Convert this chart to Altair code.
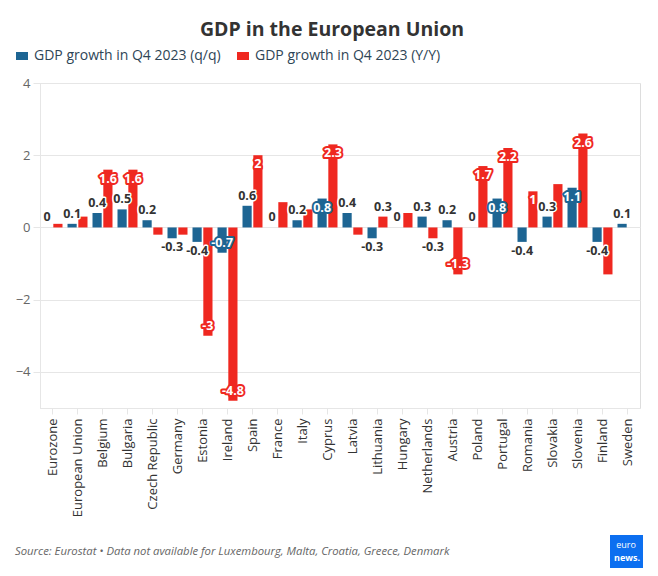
import altair as alt
import pandas as pd

countries = ["Eurozone", "European Union", "Belgium", "Bulgaria", "Czech Republic",
             "Germany", "Estonia", "Ireland", "Spain", "France", "Italy", "Cyprus",
             "Latvia", "Lithuania", "Hungary", "Netherlands", "Austria", "Poland",
             "Portugal", "Romania", "Slovakia", "Slovenia", "Finland", "Sweden"]
qq = [0, 0.1, 0.4, 0.5, 0.2, -0.3, -0.4, -0.7, 0.6, 0, 0.2, 0.8,
      0.4, -0.3, 0, 0.3, 0.2, 0, 0.8, -0.4, 0.3, 1.1, -0.4, 0.1]
yy = [0.1, 0.3, 1.6, 1.6, -0.2, -0.2, -3, -4.8, 2, 0.7, 0.5, 2.3,
      -0.2, 0.3, 0.4, -0.3, -1.3, 1.7, 2.2, 1, 1.2, 2.6, -1.3, None]
yy_labelled = ["Belgium", "Bulgaria", "Estonia", "Ireland", "Spain", "Cyprus",
               "Lithuania", "Netherlands", "Austria", "Poland", "Portugal",
               "Romania", "Slovenia"]
series_names = ["GDP growth in Q4 2023 (q/q)", "GDP growth in Q4 2023 (Y/Y)"]
colors = ["#1d6593", "#ef2820"]
y_ticks = [-4, -2, 0, 2, 4]
title_text = "GDP in the European Union"
source_text = "Source: Eurostat \u2022 Data not available for Luxembourg, Malta, Croatia, Greece, Denmark"

rows = []
for i, c in enumerate(countries):
    for s, vals in enumerate((qq, yy)):
        v = vals[i]
        if v is None:
            continue
        shown = (s == 0) or (c in yy_labelled)
        rows.append(dict(country=c, series=series_names[s], value=v,
                         label=f"{v:g}" if shown else ""))
df = pd.DataFrame(rows)

FONT = "Open Sans"

base = alt.Chart(df).encode(
    x=alt.X("country:N", sort=countries, title=None,
            scale=alt.Scale(paddingInner=0.2, paddingOuter=0.1),
            axis=alt.Axis(labelAngle=-90, labelFontSize=13, labelColor="#333333",
                          domainColor="#e6e6e6", tickColor="#e6e6e6", tickSize=6,
                          labelPadding=4, grid=False, labelFont=FONT)),
    xOffset=alt.XOffset("series:N", sort=series_names,
                        scale=alt.Scale(paddingInner=0.15)),
    y=alt.Y("value:Q", title=None,
            scale=alt.Scale(domain=[-5, 4], nice=False, zero=False),
            axis=alt.Axis(values=y_ticks, grid=True, gridColor="#e6e6e6",
                          domainColor="#e6e6e6", tickColor="#e6e6e6", tickSize=7,
                          labelFontSize=13, labelColor="#666666", labelPadding=3,
                          labelFont=FONT)),
)

bars = base.mark_bar().encode(
    color=alt.Color("series:N", sort=series_names,
                    scale=alt.Scale(domain=series_names, range=colors),
                    legend=alt.Legend(orient="none", legendX=-25, legendY=-34,
                                      direction="horizontal", title=None,
                                      symbolType="M-1.2,-0.8H1.2V0.8H-1.2Z",
                                      symbolSize=100, symbolStrokeWidth=0,
                                      labelFontSize=14, labelColor="#2e4556",
                                      labelFont=FONT, columnPadding=15,
                                      labelOffset=5, labelLimit=400))
)

labelled = "datum.label != ''"
out_pos = f"{labelled} && datum.value >= 0 && abs(datum.value) < 0.65"
out_neg = f"{labelled} && datum.value < 0 && abs(datum.value) < 0.65"
in_pos = f"{labelled} && datum.value >= 0.65"
in_neg = f"{labelled} && datum.value <= -0.65"

txt = dict(font=FONT, fontSize=12.5, fontWeight="bold", align="center")


def outside(expr, baseline, dy):
    halo = base.transform_filter(expr).mark_text(
        baseline=baseline, dy=dy, stroke="white", strokeWidth=3,
        strokeJoin="round", fill="white", **txt).encode(text="label:N")
    fill = base.transform_filter(expr).mark_text(
        baseline=baseline, dy=dy, fill="#333333", **txt).encode(text="label:N")
    return [halo, fill]


def inside(expr, baseline, dy):
    halo = base.transform_filter(expr).mark_text(
        baseline=baseline, dy=dy, strokeWidth=4, strokeJoin="round", **txt).encode(
        text="label:N",
        stroke=alt.Stroke("series:N", scale=alt.Scale(domain=series_names, range=colors),
                          legend=None),
        fill=alt.Fill("series:N", scale=alt.Scale(domain=series_names, range=colors),
                      legend=None))
    fill = base.transform_filter(expr).mark_text(
        baseline=baseline, dy=dy, fill="white", **txt).encode(text="label:N")
    return [halo, fill]


labels = (outside(out_pos, "bottom", -3) + outside(out_neg, "top", 3)
          + inside(in_pos, "top", 3) + inside(in_neg, "bottom", -3))

title = alt.Chart(pd.DataFrame({"t": [title_text]})).mark_text(
    align="center", baseline="middle", font=FONT, fontSize=19.5, fontWeight="bold",
    color="#333333").encode(x=alt.value(292), y=alt.value(-53), text="t:N")

footer = alt.Chart(pd.DataFrame({"t": [source_text]})).mark_text(
    align="left", baseline="middle", font=FONT, fontSize=11.3, fontStyle="italic",
    color="#666666").encode(x=alt.value(-25), y=alt.value(469), text="t:N")

logo_box = alt.Chart(pd.DataFrame({"t": ["euronews"]})).mark_rect(
    color="#0c6ff0").encode(x=alt.value(570), x2=alt.value(603),
                            y=alt.value(452), y2=alt.value(485))
logo_top = alt.Chart(pd.DataFrame({"t": ["euro"]})).mark_text(
    font=FONT, fontSize=9, color="white", align="center", baseline="middle").encode(
    x=alt.value(586), y=alt.value(462), text="t:N")
logo_bot = alt.Chart(pd.DataFrame({"t": ["news."]})).mark_text(
    font=FONT, fontSize=9, fontWeight="bold", color="white", align="center",
    baseline="middle").encode(x=alt.value(587), y=alt.value(475), text="t:N")

chart = alt.layer(bars, *labels, title, footer, logo_box, logo_top, logo_bot).properties(
    width=600, height=325,
    autosize=alt.AutoSizeParams(type="none"),
    padding={"left": 32, "top": 75, "right": 10, "bottom": 160},
).configure_view(stroke=None).configure(font=FONT)

chart.save("out.html", embed_options={"renderer": "svg", "actions": False})
